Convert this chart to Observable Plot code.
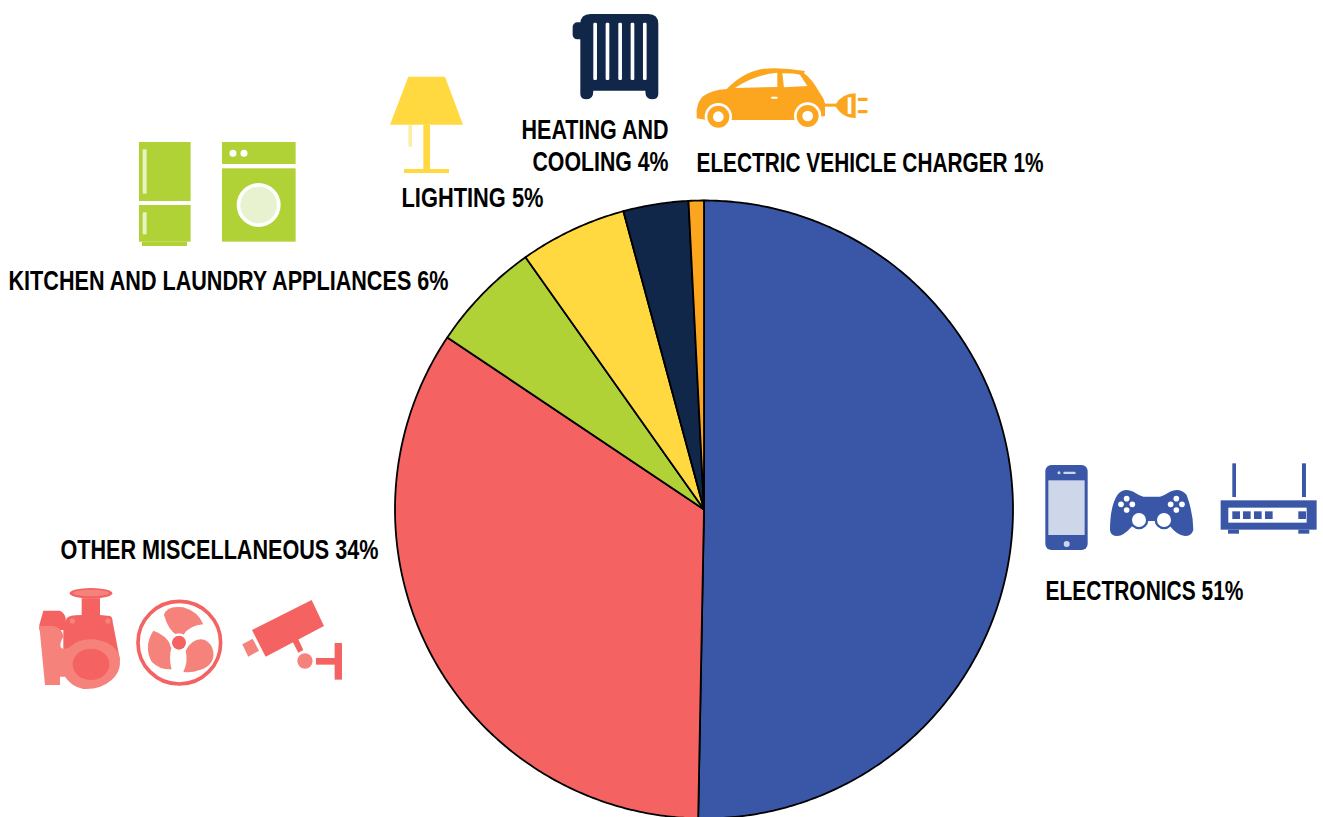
<!DOCTYPE html>
<html>
<head>
<meta charset="utf-8">
<script src="https://cdn.jsdelivr.net/npm/d3@7"></script>
<script src="https://cdn.jsdelivr.net/npm/@observablehq/plot@0.6"></script>
<style>
html,body{margin:0;padding:0;background:#fff;overflow:hidden}
svg{display:block}
</style>
</head>
<body>
<div id="chart"></div>
<script>
const categories = ["Electronics","Other miscellaneous","Kitchen and laundry appliances","Lighting","Heating and cooling","Electric vehicle charger"];
const shares = [50.3,34.1,5.8,5.6,3.4,0.8];
const colors = ["#3957a6","#f46262","#b1d236","#ffd93f","#10274a","#fca61f"];
const labels = ["ELECTRONICS 51%","OTHER MISCELLANEOUS 34%","KITCHEN AND LAUNDRY APPLIANCES 6%","LIGHTING 5%","HEATING AND","COOLING 4%","ELECTRIC VEHICLE CHARGER 1%"];
const labelX = [1045,60,8,401,521,532,696];
const labelY = [599,558,289,206,138,170,171];
const labelWidth = [198,318,440,142,147,136,347];

const W = 1323, H = 817, CX = 703.5, CY = 509, R = 309;

const total = d3.sum(shares);
let cum = 0;
const piePoints = categories.flatMap((name, i) => {
  const a0 = cum / total * 2 * Math.PI;
  cum += shares[i];
  const a1 = cum / total * 2 * Math.PI;
  const n = Math.max(2, Math.ceil((a1 - a0) / 0.01));
  const arc = d3.range(n + 1).map(k => {
    const a = a0 + (a1 - a0) * k / n;
    return {name, px: CX + R * Math.sin(a), py: CY - R * Math.cos(a)};
  });
  return [{name, px: CX, py: CY}, ...arc, {name, px: CX, py: CY}];
});

const labelRows = labels.map((text, i) => ({text, x: labelX[i], y: labelY[i], width: labelWidth[i]}));

const G="#b1d236",Y="#ffd93f",N="#10274a",O="#fca61f",B="#3957a6",D="#f46262",L="#f5837c";
const iconMarkup = `
<g transform="translate(0,130) scale(.3333)">
 <rect x="417" y="36" width="155" height="177" fill="${G}"/><rect x="417" y="225" width="155" height="110" fill="${G}"/>
 <rect x="426" y="335" width="135" height="13" fill="${G}"/>
 <rect x="428" y="58" width="12" height="133" fill="#fff" opacity=".7"/><rect x="428" y="247" width="12" height="66" fill="#fff" opacity=".7"/>
 <rect x="666" y="36" width="221" height="66" fill="${G}"/><rect x="666" y="115" width="221" height="220" fill="${G}"/>
 <circle cx="699" cy="70" r="10.5" fill="#fff"/><circle cx="732" cy="70" r="10.5" fill="#fff"/>
 <circle cx="776" cy="225" r="66" fill="#fff"/><circle cx="776" cy="225" r="55" fill="#e9f2d0"/>
</g>
<g transform="translate(380,0) scale(.3333)">
 <path d="M85 230H195L249 374H30Z" fill="${Y}"/>
 <rect x="130" y="374" width="20" height="135" fill="${Y}"/><rect x="72" y="507" width="135" height="12" fill="${Y}"/>
 <rect x="85" y="374" width="11" height="66" fill="#ffeca6"/>
 <rect x="578" y="67" width="40" height="51" rx="14" fill="${N}"/>
 <path d="M632 42H805Q835 42 835 72V282Q835 298 816 298Q796 298 796 272H640Q640 298 620 298Q601 298 601 282V72Q601 42 632 42Z" fill="${N}"/>
 ${[640,677,715,752,789].map(x=>`<rect x="${x}" y="68" width="11" height="172" rx="4" fill="#fff"/>`).join("")}
</g>
<g transform="translate(680,50) scale(.3333)">
 <path d="M50 205V180Q55 150 70 138Q95 120 140 117Q190 65 250 56Q310 52 375 63L372 70Q395 85 420 130Q432 145 435 160V198L420 200V210H155V210L75 209Z" fill="${O}"/>
 <path d="M165 114Q220 75 292 68V111Z" fill="#fff"/><path d="M307 70Q340 70 360 74L382 108L312 112Z" fill="#fff"/>
 <rect x="273" y="140" width="20" height="6" rx="3" fill="#fff"/>
 <circle cx="115" cy="200" r="41" fill="#fff"/><circle cx="115" cy="200" r="33" fill="${O}"/><circle cx="115" cy="200" r="16" fill="#fff"/>
 <circle cx="383" cy="198" r="41" fill="#fff"/><circle cx="383" cy="198" r="33" fill="${O}"/><circle cx="383" cy="198" r="16" fill="#fff"/>
 <rect x="430" y="161" width="40" height="9" fill="${O}"/>
 <path d="M465 166Q485 130 527 130V204Q485 204 465 166Z" fill="${O}"/>
 <rect x="503" y="142" width="11" height="50" fill="#fff"/>
 <rect x="533" y="143" width="30" height="10" rx="4" fill="${O}"/><rect x="533" y="180" width="30" height="10" rx="4" fill="${O}"/>
</g>
<g transform="translate(1030,450) scale(.3333)">
 <rect x="46" y="45" width="127" height="255" rx="18" fill="${B}"/><rect x="55" y="91" width="109" height="164" fill="#ced6e9"/>
 <rect x="100" y="65" width="37" height="7" rx="3" fill="#ced6e9"/><circle cx="87" cy="68" r="4.5" fill="#ced6e9"/><circle cx="110" cy="282" r="9" fill="#ced6e9"/>
 <path d="M240 240Q240 170 262 135Q280 112 310 125Q325 135 340 140H390Q405 135 420 125Q450 112 470 135Q490 190 490 240Q485 258 465 258Q440 255 420 228L380 213H340L305 230Q280 258 262 258Q242 258 240 240Z" fill="${B}"/>
 <circle cx="327" cy="210" r="28" fill="${B}"/><circle cx="402" cy="210" r="28" fill="${B}"/>
 <circle cx="327" cy="210" r="21" fill="#fff"/><circle cx="402" cy="210" r="21" fill="#fff"/>
 ${[[290,146],[273,163],[307,163],[290,180],[439,146],[422,163],[456,163],[439,180]].map(([x,y])=>`<circle cx="${x}" cy="${y}" r="8.5" fill="#fff"/>`).join("")}
 <rect x="607" y="40" width="11" height="101" fill="${B}"/><rect x="816" y="40" width="12" height="101" fill="${B}"/>
 <rect x="572" y="151" width="288" height="88" fill="${B}"/><rect x="595" y="173" width="235" height="45" fill="#fff"/>
 ${[607,639,672,705,805].map(x=>`<rect x="${x}" y="184" width="23" height="23" fill="${B}"/>`).join("")}
 <rect x="594" y="239" width="33" height="12" fill="${B}"/><rect x="805" y="239" width="33" height="12" fill="${B}"/>
</g>
<g transform="translate(20,530) scale(.3333)">
 <path d="M140 265Q145 255 185 255V205H240V255L270 258Q278 262 278 275L300 390L130 370V300Z" fill="${D}"/>
 <ellipse cx="213" cy="190" rx="64" ry="16" fill="${D}"/><ellipse cx="213" cy="189" rx="54" ry="10" fill="${L}"/>
 <path d="M58 285L70 242H120Q138 250 138 275V300L58 300Z" fill="${D}"/>
 <path d="M58 288H100Q128 295 130 320Q118 340 122 352Q130 362 150 350Q175 328 213 328Q270 330 296 370Q310 420 275 450Q240 480 190 477Q155 470 135 440H120V465H75Z" fill="${L}"/>
 <ellipse cx="213" cy="403" rx="55" ry="47" fill="${D}"/>
 <circle cx="157" cy="273" r="8" fill="${L}"/><circle cx="264" cy="273" r="8" fill="${L}"/>
 <circle cx="478" cy="338" r="124" fill="#fff" stroke="${D}" stroke-width="11"/>
 <path d="M432 255Q440 225 490 232Q535 245 550 283Q510 285 490 315L470 315Q445 300 432 255Z" fill="${L}"/>
 <path d="M580 365Q585 405 540 420Q510 430 490 425Q505 395 497 362Q520 320 555 330Q575 340 580 365Z" fill="${L}"/>
 <path d="M400 302Q440 315 455 350Q445 385 455 418Q420 420 395 395Q370 350 400 302Z" fill="${L}"/>
 <circle cx="477" cy="338" r="28" fill="#fff"/><circle cx="477" cy="338" r="21" fill="${D}"/>
 <path d="M696 300L875 210L912 288L737 380Z" fill="${D}"/>
 <path d="M667 343L698 326L717 362L685 380Z" fill="${L}"/>
 <path d="M818 335L835 328L850 360L835 368Z" fill="${D}"/>
 <circle cx="855" cy="393" r="23" fill="${L}"/>
 <rect x="888" y="384" width="60" height="20" fill="${D}"/><rect x="944" y="339" width="22" height="110" fill="${D}"/>
</g>`;

const chart = Plot.plot({
  width: W, height: H,
  margin: 0,
  style: {background: "#fff", overflow: "hidden"},
  x: {domain: [0, W], range: [0, W], axis: null},
  y: {domain: [0, H], range: [0, H], axis: null},
  color: {domain: categories, range: colors},
  marks: [
    Plot.line(piePoints, {x: "px", y: "py", z: "name", fill: "name", stroke: "#000", strokeWidth: 1.8, strokeLinejoin: "round", curve: "linear"}),
    () => {
      const g = document.createElementNS("http://www.w3.org/2000/svg", "g");
      g.innerHTML = iconMarkup;
      return g;
    },
    Plot.text(labelRows, {
      x: "x", y: "y", text: "text", textAnchor: "start", lineAnchor: "bottom", fill: "#000",
      fontFamily: "'Liberation Sans',sans-serif", fontSize: 27, fontWeight: 700,
      render: (index, scales, values, dimensions, context, next) => {
        const g = next(index, scales, values, dimensions, context);
        d3.select(g).selectAll("text").each(function (i) {
          this.setAttribute("textLength", labelRows[i].width);
          this.setAttribute("lengthAdjust", "spacingAndGlyphs");
        });
        return g;
      }
    })
  ]
});
document.getElementById("chart").append(chart);
</script>
</body>
</html>
